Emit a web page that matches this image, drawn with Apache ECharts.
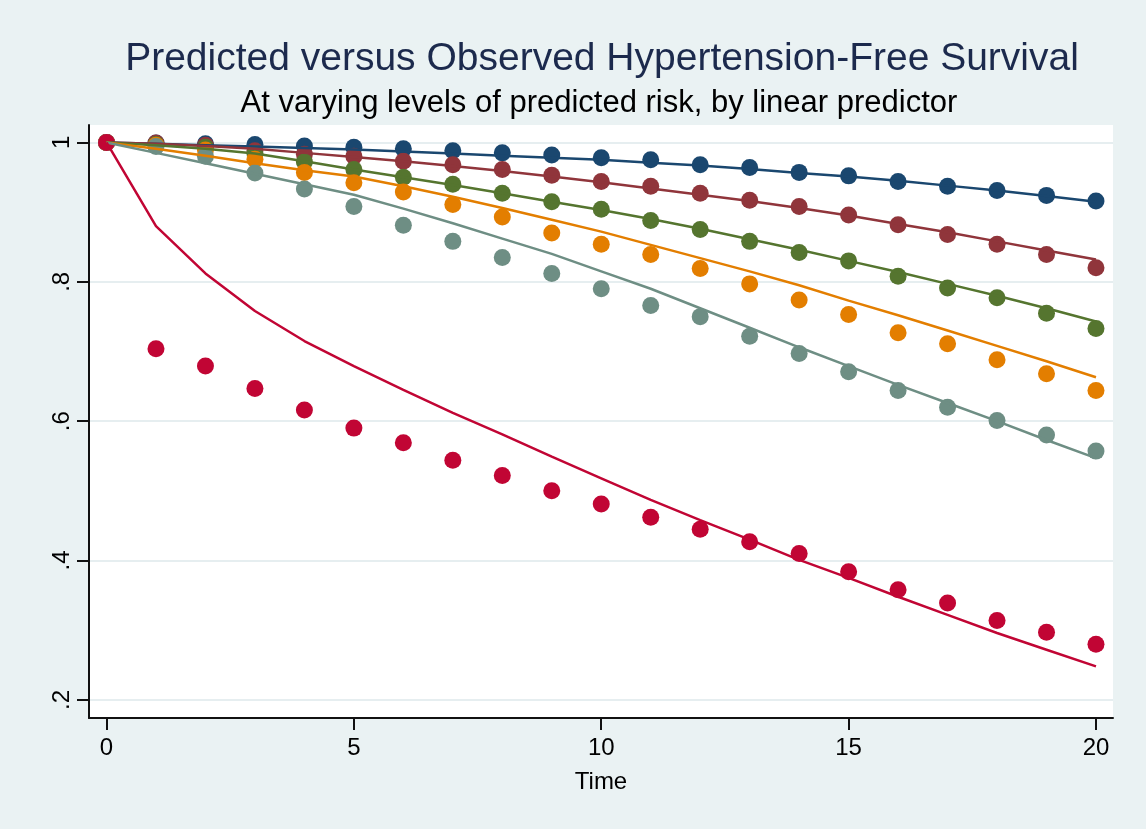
<!DOCTYPE html>
<html>
<head>
<meta charset="utf-8">
<title>Predicted versus Observed Hypertension-Free Survival</title>
<script src="https://cdn.jsdelivr.net/npm/echarts@6/dist/echarts.min.js"></script>
<style>
  html, body { margin: 0; padding: 0; background: #eaf2f3; }
  #main { width: 1146px; height: 829px; }
</style>
</head>
<body>
<div id="main"></div>
<script>
// time points (x axis)
const times = [0, 1, 2, 3, 4, 5, 6, 7, 8, 9, 10, 11, 12, 13, 14, 15, 16, 17, 18, 19, 20];

// observed survival (dots), one array per risk group
const obsNavy   = [1, .999, .998, .997, .995, .993, .991, .988, .985, .982, .978, .975, .968, .964, .957, .952, .944, .937, .931, .924, .916];
const obsMaroon = [1, .999, .996, .988, .983, .980, .973, .968, .961, .953, .944, .937, .927, .917, .908, .896, .882, .868, .854, .839, .820];
const obsGreen  = [1, .997, .993, .984, .972, .961, .950, .940, .927, .915, .904, .888, .875, .858, .842, .830, .808, .791, .777, .755, .733];
const obsOrange = [1, .996, .989, .976, .957, .942, .929, .911, .893, .870, .854, .839, .819, .797, .774, .753, .727, .711, .688, .668, .644];
const obsTeal   = [1, .994, .980, .956, .933, .908, .881, .858, .835, .812, .790, .766, .750, .722, .697, .671, .644, .620, .601, .580, .557];
const obsRed    = [1, .704, .679, .647, .616, .590, .569, .544, .522, .500, .481, .462, .445, .427, .410, .384, .358, .339, .314, .297, .280];

// predicted survival (lines)
const predNavy   = [1, .998, .996, .994, .992, .990, .987, .984, .981, .978, .975, .971, .967, .962, .956, .951, .945, .938, .931, .923, .915];
const predMaroon = [1, .998, .995, .991, .985, .979, .973, .966, .959, .951, .943, .934, .925, .916, .906, .895, .883, .871, .858, .845, .832];
const predGreen  = [1, .996, .991, .984, .973, .961, .950, .939, .927, .915, .903, .890, .876, .861, .846, .830, .814, .797, .780, .762, .743];
const predOrange = [1, .991, .981, .970, .960, .951, .937, .922, .906, .889, .872, .853, .834, .815, .795, .773, .752, .730, .708, .686, .663];
const predTeal   = [1, .985, .970, .955, .940, .925, .905, .884, .862, .840, .815, .790, .762, .734, .706, .679, .652, .626, .600, .573, .547];
const predRed    = [1, .880, .812, .758, .715, .679, .645, .612, .581, .549, .518, .487, .458, .430, .401, .375, .348, .322, .296, .272, .248];

// axis ticks
const xTicks = [0, 5, 10, 15, 20];
const yTicks = [0.2, 0.4, 0.6, 0.8, 1];

const groups = [
  { obs: obsNavy,   pred: predNavy,   color: '#1a476f' },
  { obs: obsMaroon, pred: predMaroon, color: '#90353b' },
  { obs: obsGreen,  pred: predGreen,  color: '#55752f' },
  { obs: obsOrange, pred: predOrange, color: '#e37e00' },
  { obs: obsTeal,   pred: predTeal,   color: '#6e8e84' },
  { obs: obsRed,    pred: predRed,    color: '#c10534' }
];

const pairs = (vals) => times.map((t, i) => [t, vals[i]]);
const font = '"Liberation Sans", Arial, Helvetica, sans-serif';

var myChart = echarts.init(document.getElementById('main'));

var series = [];
groups.forEach(function (g) {
  series.push({
    type: 'scatter',
    data: pairs(g.obs),
    symbolSize: 17,
    itemStyle: { color: g.color, opacity: 1 },
    silent: true
  });
});
groups.forEach(function (g) {
  series.push({
    type: 'line',
    data: pairs(g.pred),
    showSymbol: false,
    symbol: 'none',
    lineStyle: { color: g.color, width: 2.5 },
    silent: true
  });
});

var option = {
  backgroundColor: '#eaf2f3',
  animation: false,
  textStyle: { fontFamily: font },
  title: [
    {
      text: 'Predicted versus Observed Hypertension-Free Survival',
      left: 602,
      top: 40,
      textAlign: 'center',
      padding: 0,
      textStyle: { fontFamily: font, fontSize: 39, fontWeight: 'normal', color: '#1c2a4d' }
    },
    {
      text: 'At varying levels of predicted risk, by linear predictor',
      left: 599,
      top: 88,
      textAlign: 'center',
      padding: 0,
      textStyle: { fontFamily: font, fontSize: 31, fontWeight: 'normal', color: '#000' }
    }
  ],
  grid: {
    left: 89,
    right: 33,
    top: 125,
    bottom: 111,
    show: true,
    backgroundColor: '#ffffff',
    borderWidth: 0,
    containLabel: false
  },
  xAxis: {
    type: 'value',
    min: -0.354,
    max: 20.344,
    name: 'Time',
    nameLocation: 'middle',
    nameGap: 52,
    nameTextStyle: { fontFamily: font, fontSize: 24, color: '#000' },
    axisLine: { show: true, onZero: false, lineStyle: { color: '#111', width: 2 } },
    axisTick: { show: true, customValues: xTicks, length: 12, lineStyle: { color: '#111', width: 2 } },
    axisLabel: {
      customValues: xTicks,
      margin: 18,
      fontSize: 24,
      color: '#000',
      fontFamily: font,
      formatter: function (v) { return String(v); }
    },
    splitLine: { show: false }
  },
  yAxis: {
    type: 'value',
    min: 0.174,
    max: 1.025,
    axisLine: { show: true, onZero: false, lineStyle: { color: '#111', width: 2 } },
    axisTick: { show: true, customValues: yTicks, length: 12, lineStyle: { color: '#111', width: 2 } },
    axisLabel: {
      customValues: yTicks,
      rotate: 90,
      margin: 15,
      fontSize: 24,
      color: '#000',
      fontFamily: font,
      formatter: function (v) {
        var s = String(Math.round(v * 10) / 10);
        return s.replace(/^0\./, '.');
      }
    },
    splitLine: { show: true, lineStyle: { color: '#e6eef0', width: 2 } }
  },
  series: series
};

option && myChart.setOption(option);
</script>
</body>
</html>
